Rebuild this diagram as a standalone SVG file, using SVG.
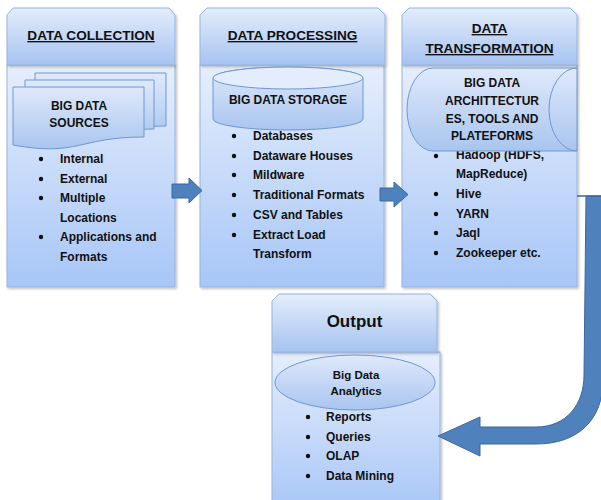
<svg xmlns="http://www.w3.org/2000/svg" width="601" height="500" viewBox="0 0 601 500">
<defs>
<linearGradient id="gHead" x1="0" y1="0" x2="0" y2="1">
<stop offset="0" stop-color="#e3edfc"/><stop offset="1" stop-color="#a6c3f0"/>
</linearGradient>
<linearGradient id="gBody" x1="0" y1="0" x2="0" y2="1">
<stop offset="0" stop-color="#e6eefc"/><stop offset="1" stop-color="#a7c6f7"/>
</linearGradient>
<linearGradient id="gShape" x1="0" y1="0" x2="0" y2="1">
<stop offset="0" stop-color="#dfe9fb"/><stop offset="1" stop-color="#a9c5ef"/>
</linearGradient>
<filter id="sh" x="-5%" y="-5%" width="115%" height="115%">
<feDropShadow dx="1.5" dy="1.5" stdDeviation="1" flood-color="#000" flood-opacity="0.25"/>
</filter>
</defs>
<style>
.head{fill:url(#gHead);stroke:#95b4e0;stroke-width:1;filter:url(#sh)}
.body{fill:url(#gBody);stroke:#95b4e0;stroke-width:1;filter:url(#sh)}
.shape{fill:url(#gShape);stroke:#6f98cf;stroke-width:1}
.ht{font-family:"Liberation Sans",Arial,sans-serif;font-weight:bold;font-size:13.6px;fill:#111;text-anchor:middle;text-decoration:underline}
.st{font-family:"Liberation Sans",Arial,sans-serif;font-weight:bold;font-size:12px;fill:#111;text-anchor:middle}
.li{font-family:"Liberation Sans",Arial,sans-serif;font-weight:bold;font-size:12px;fill:#111}
.dot{fill:#111}
.arr{fill:#4f81bd;stroke:#3a68a0;stroke-width:1}
</style>

<g id="data-collection">
<rect class="body" x="7" y="65" width="168" height="222"/>
<path class="head" d="M7 15 L13 8 L169 8 L175 15 L175 65 L7 65 Z"/>
<text class="ht" x="91" y="40">DATA COLLECTION</text>
<g class="dot"><circle cx="41" cy="159" r="2.2"/><circle cx="41" cy="179" r="2.2"/><circle cx="41" cy="198" r="2.2"/><circle cx="41" cy="237" r="2.2"/></g>
<text class="li" x="60" y="163">Internal</text>
<text class="li" x="60" y="183">External</text>
<text class="li" x="60" y="202">Multiple</text>
<text class="li" x="60" y="222">Locations</text>
<text class="li" x="60" y="241">Applications and</text>
<text class="li" x="60" y="261">Formats</text>
<path class="shape" d="M35 73 L166 73 L166 126 C100 126 100 146 35 135 Z"/>
<path class="shape" d="M25 80 L154 80 L154 129 C89.5 129 89.5 148 25 137 Z"/>
<path class="shape" d="M13 87 L144 87 L144 137 C78.5 137 78.5 157 13 145 Z"/>
<text class="st" x="79" y="110">BIG DATA</text>
<text class="st" x="79" y="127">SOURCES</text>
</g>

<g id="data-processing">
<rect class="body" x="200" y="65" width="184" height="222"/>
<path class="head" d="M200 15 L207 8 L378 8 L385 15 L385 65 L200 65 Z"/>
<text class="ht" x="292.5" y="40">DATA PROCESSING</text>
<g class="dot"><circle cx="234" cy="136" r="2.2"/><circle cx="234" cy="156" r="2.2"/><circle cx="234" cy="175" r="2.2"/><circle cx="234" cy="195" r="2.2"/><circle cx="234" cy="215" r="2.2"/><circle cx="234" cy="235" r="2.2"/></g>
<text class="li" x="253" y="140">Databases</text>
<text class="li" x="253" y="160">Dataware Houses</text>
<text class="li" x="253" y="179">Mildware</text>
<text class="li" x="253" y="199">Traditional Formats</text>
<text class="li" x="253" y="219">CSV and Tables</text>
<text class="li" x="253" y="239">Extract Load</text>
<text class="li" x="253" y="258">Transform</text>
<path class="shape" d="M213 78 L213 119 A75 11 0 0 0 363 119 L363 78 A75 11 0 0 0 213 78 Z"/>
<ellipse cx="288" cy="78" rx="75" ry="11" fill="#e4edfc" stroke="#6f98cf" stroke-width="1"/>
<text class="st" x="288" y="104">BIG DATA STORAGE</text>
</g>

<g id="data-transformation">
<rect class="body" x="402" y="65" width="175" height="222"/>
<path class="head" d="M402 15 L409 8 L570 8 L577 15 L577 65 L402 65 Z"/>
<text class="ht" x="489.5" y="33">DATA</text>
<text class="ht" x="489.5" y="53">TRANSFORMATION</text>
<g class="dot"><circle cx="436" cy="156" r="2.2"/><circle cx="436" cy="194" r="2.2"/><circle cx="436" cy="214" r="2.2"/><circle cx="436" cy="233" r="2.2"/><circle cx="436" cy="253" r="2.2"/></g>
<text class="li" x="456" y="159">Hadoop (HDFS,</text>
<text class="li" x="456" y="178">MapReduce)</text>
<text class="li" x="456" y="198">Hive</text>
<text class="li" x="456" y="218">YARN</text>
<text class="li" x="456" y="237">Jaql</text>
<text class="li" x="456" y="257">Zookeeper etc.</text>
<path class="shape" d="M433 68 L577 68 L577 151 L433 151 A26 41.5 0 0 1 433 68 Z"/>
<path d="M577 68 A28 41.5 0 0 0 577 151" fill="none" stroke="#6f98cf" stroke-width="1"/>
<text class="st" x="492" y="87">BIG DATA</text>
<text class="st" x="492" y="105">ARCHITTECTUR</text>
<text class="st" x="492" y="123">ES, TOOLS AND</text>
<text class="st" x="492" y="140">PLATEFORMS</text>
</g>

<g id="output">
<rect class="body" x="272" y="352" width="168" height="160"/>
<path class="head" d="M272 301 L279 294 L430 294 L437 301 L437 352 L272 352 Z"/>
<text x="354.5" y="327" font-family="'Liberation Sans',Arial,sans-serif" font-weight="bold" font-size="17" fill="#111" text-anchor="middle">Output</text>
<ellipse class="shape" cx="355" cy="382.5" rx="80" ry="27.5"/>
<text class="st" x="356" y="379" style="font-size:11.5px">Big Data</text>
<text class="st" x="356" y="395" style="font-size:11.5px">Analytics</text>
<g class="dot"><circle cx="308" cy="417" r="2.2"/><circle cx="308" cy="437" r="2.2"/><circle cx="308" cy="456" r="2.2"/><circle cx="308" cy="476" r="2.2"/></g>
<text class="li" x="326" y="421">Reports</text>
<text class="li" x="326" y="441">Queries</text>
<text class="li" x="326" y="460">OLAP</text>
<text class="li" x="326" y="480">Data Mining</text>
</g>

<g id="connectors">
<path class="arr" d="M172 184 L189 184 L189 178 L202 190.5 L189 203 L189 198 L172 198 Z"/>
<path class="arr" d="M380 188 L394 188 L394 182 L408 194.5 L394 207 L394 201 L380 201 Z"/>
<path class="arr" d="M586 196 L603 196 L603 380 C603 420 578 444 536 444 L480 444 L480 456 L438 436 L480 417 L480 427 L536 427 C566 427 584 405 584 375 L586 196 Z"/>
<line x1="577" y1="196" x2="601" y2="196" stroke="#3a68a0" stroke-width="1.5"/>
</g>
</svg>
